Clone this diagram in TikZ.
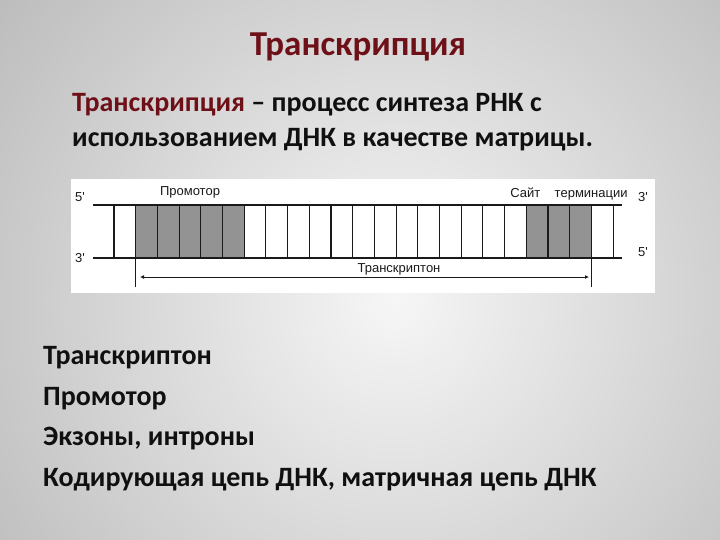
\documentclass[tikz,border=0pt]{standalone}
\usepackage{fontspec}
\setmainfont{Carlito}
\newfontfamily\labfont{Liberation Sans}
\usetikzlibrary{arrows.meta}
\definecolor{bgin}{HTML}{F6F6F6}
\definecolor{bgout}{HTML}{7E7E7E}
\definecolor{titlered}{HTML}{6E1018}
\definecolor{ink}{HTML}{101010}
\definecolor{cellgray}{HTML}{939393}
\definecolor{lineink}{HTML}{1A1A1A}
\pgfdeclareradialshading{slidebg}{\pgfpoint{0bp}{0bp}}{color(0bp)=(bgin); color(50bp)=(bgout)}
\tikzset{
  bodytext/.style={text=ink, inner sep=0pt, anchor=base west, font=\fontsize{28}{32}\selectfont\bfseries},
  titletext/.style={text=titlered, inner sep=0pt, anchor=base, font=\fontsize{35}{40}\selectfont\bfseries},
  lab/.style={text=lineink, inner sep=0pt, font=\labfont\fontsize{13}{15}\selectfont},
  strand/.style={draw=lineink, line width=1.6pt},
  rung/.style={draw=lineink, line width=1.1pt},
}
\begin{document}
\begin{tikzpicture}[x=1pt, y=-1pt]
\useasboundingbox (0,0) rectangle (720,540);
% background
\fill[bgout] (0,0) rectangle (720,540);
\shade[shading=slidebg] (395,300) circle (520);
% title
\node[titletext] (title) at (358,56) {Транскрипция};
% definition
\node[bodytext] (def1) at (72,112) {\textcolor{titlered}{Транскрипция} – процесс синтеза РНК с};
\node[bodytext] (def2) at (72,147) {использованием ДНК в качестве матрицы.};
% diagram panel
\fill[white] (71,179) rectangle (655,293);
% coordinates of rungs
\foreach \k in {0,...,23}{
  \coordinate (t\k) at ({114+21.7*\k},205);
  \coordinate (b\k) at ({114+21.7*\k},258);
}
\fill[cellgray] (t1) rectangle (b6);
\fill[cellgray] (t19) rectangle (b22);
\foreach \k in {0,...,23}{
  \draw[rung] (t\k) -- (b\k);
}
\coordinate (e1) at ({114+21.7*1},287);
\coordinate (e22) at ({114+21.7*22},287);
\draw[rung] (b1) -- (e1);
\draw[rung] (b22) -- (e22);
\coordinate (topL) at (93,205);
\coordinate (topR) at (622,205);
\coordinate (botL) at (93,258);
\coordinate (botR) at (622,258);
\draw[strand] (topL) -- (topR);
\draw[strand] (botL) -- (botR);
\node[lab, anchor=base] (l5) at (80,202) {5'};
\node[lab, anchor=base] (l3) at (80,262) {3'};
\node[lab, anchor=base] (r3) at (643,202) {3'};
\node[lab, anchor=base] (r5) at (643,256) {5'};
\node[lab, anchor=base] (prom) at (190,196) {Промотор};
\node[lab, anchor=base] (term) at (569,197) {Сайт\hspace{1.1em}терминации};
\node[lab, anchor=base] (trs) at (399,272) {Транскриптон};
\coordinate (a1) at (140,277);
\coordinate (a2) at (589,277);
\draw[draw=lineink, line width=1pt, {Latex[length=4pt,width=4pt]}-{Latex[length=4pt,width=4pt]}] (a1) -- (a2);
% list
\node[bodytext] (i1) at (43,364) {Транскриптон};
\node[bodytext] (i2) at (43,405) {Промотор};
\node[bodytext] (i3) at (43,445) {Экзоны, интроны};
\node[bodytext] (i4) at (43,486) {Кодирующая цепь ДНК, матричная цепь ДНК};
\end{tikzpicture}
\end{document}
